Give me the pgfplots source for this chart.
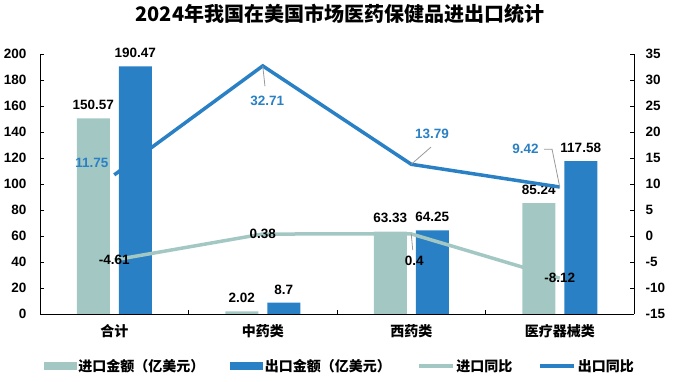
\documentclass[border=0pt]{standalone}
\usepackage{pgfplots}
\pgfplotsset{compat=1.18}
\usepackage{fontspec}
\setmainfont{Liberation Sans}
\newfontfamily\cjk{Noto Sans CJK SC}
\definecolor{imp}{HTML}{A3C8C4}
\definecolor{exp}{HTML}{2A80C4}
\newcommand\numf{\bfseries\fontsize{13.5}{16}\selectfont}
\newcommand\cjkf{\cjk\bfseries\fontsize{14}{16}\selectfont}
\begin{document}
\begin{tikzpicture}
\useasboundingbox (-40pt,-68pt) rectangle (640pt,314pt);
\pgfplotsset{common/.style={scale only axis, width=594pt, height=260pt,
  xmin=-0.5, xmax=3.5, at={(0pt,0pt)}, anchor=south west,
  tick align=inside, major tick length=4pt,
  tick style={black, line width=0.8pt},
  axis line style={black, line width=0.8pt, -},
  /pgf/number format/assume math mode=true,
  ticklabel style={font=\numf}, clip=false}}
\begin{axis}[common, ymin=0, ymax=200, ytick={0,20,...,200},
  axis x line*=bottom, axis y line*=left,
  xtick={0.5,1.5,2.5}, xticklabels={},
  extra x ticks={0,1,2,3},
  extra x tick labels={合计,中药类,西药类,医疗器械类},
  extra x tick style={major tick length=0pt},
  xticklabel style={font=\cjkf, yshift=-7pt},
  yticklabel style={xshift=-10pt},
  title={2024年我国在美国市场医药保健品进出口统计},
  title style={font=\cjk\bfseries\fontsize{20}{24}\selectfont, at={(0.505,1)}, anchor=center, yshift=34pt}]
\addplot[ybar, bar width=33pt, bar shift=-21pt, fill=imp, draw=none,
  nodes near coords, nodes near coords style={font=\numf, black, yshift=5pt, xshift=-21pt}]
  coordinates {(0,150.57) (1,2.02) (2,63.33) (3,85.24)};
\addplot[ybar, bar width=33pt, bar shift=21pt, fill=exp, draw=none,
  nodes near coords, nodes near coords style={font=\numf, black, yshift=5pt, xshift=21pt}]
  coordinates {(0,190.47) (1,8.7) (2,64.25) (3,117.58)};
\end{axis}
\begin{axis}[common, ymin=-15, ymax=35, ytick={-15,-10,...,35},
  axis x line=none, axis y line*=right,
  yticklabel style={xshift=8pt},
  legend columns=4,
  legend style={at={(0.505,-0.2)}, anchor=center, draw=none, fill=none,
    font=\cjkf, inner sep=0pt,
    /tikz/every even column/.append style={column sep=24pt}},
  legend cell align=left]
\addlegendimage{legend image code/.code={\fill[imp] (0pt,-3.5pt) rectangle (32pt,3.5pt);}}
\addlegendentry{进口金额（亿美元）}
\addlegendimage{legend image code/.code={\fill[exp] (0pt,-3.5pt) rectangle (32pt,3.5pt);}}
\addlegendentry{出口金额（亿美元）}
\addplot[imp, line width=3.5pt, line join=miter,
  legend image code/.code={\draw[imp, line width=3.5pt] (0pt,0pt) -- (34pt,0pt);}]
  coordinates {(0,-4.61) (1,0.38) (2,0.4) (3,-8.12)};
\addlegendentry{进口同比}
\addplot[exp, line width=3.5pt, line join=miter,
  legend image code/.code={\draw[exp, line width=3.5pt] (0pt,0pt) -- (34pt,0pt);}]
  coordinates {(0,11.75) (1,32.71) (2,13.79) (3,9.42)};
\addlegendentry{出口同比}
% leader lines
\draw[gray!80, line width=0.8pt] (axis cs:1,32.71) -- (axis cs:1.015,28.8);
\draw[gray!80, line width=0.8pt] (axis cs:2,13.79) -- (axis cs:2.133,17.1);
\draw[gray!80, line width=0.8pt] (axis cs:2.894,16.7) -- (axis cs:2.948,16.7) -- (axis cs:3,9.42);
\draw[gray!80, line width=0.8pt] (axis cs:2,0.4) -- (axis cs:2.01,-2.7);
% line labels
\node[font=\numf, text=exp] at (axis cs:-0.15,14.0) {11.75};
\node[font=\numf, text=exp] at (axis cs:1.03,26.0) {32.71};
\node[font=\numf, text=exp] at (axis cs:2.14,19.6) {13.79};
\node[font=\numf, text=exp] at (axis cs:2.77,16.7) {9.42};
\node[font=\numf, text=black] at (axis cs:0,-4.61) {-4.61};
\node[font=\numf, text=black] at (axis cs:1,0.38) {0.38};
\node[font=\numf, text=black] at (axis cs:2.02,-4.8) {0.4};
\node[font=\numf, text=black] at (axis cs:3,-8.12) {-8.12};
\end{axis}
\end{tikzpicture}
\end{document}
